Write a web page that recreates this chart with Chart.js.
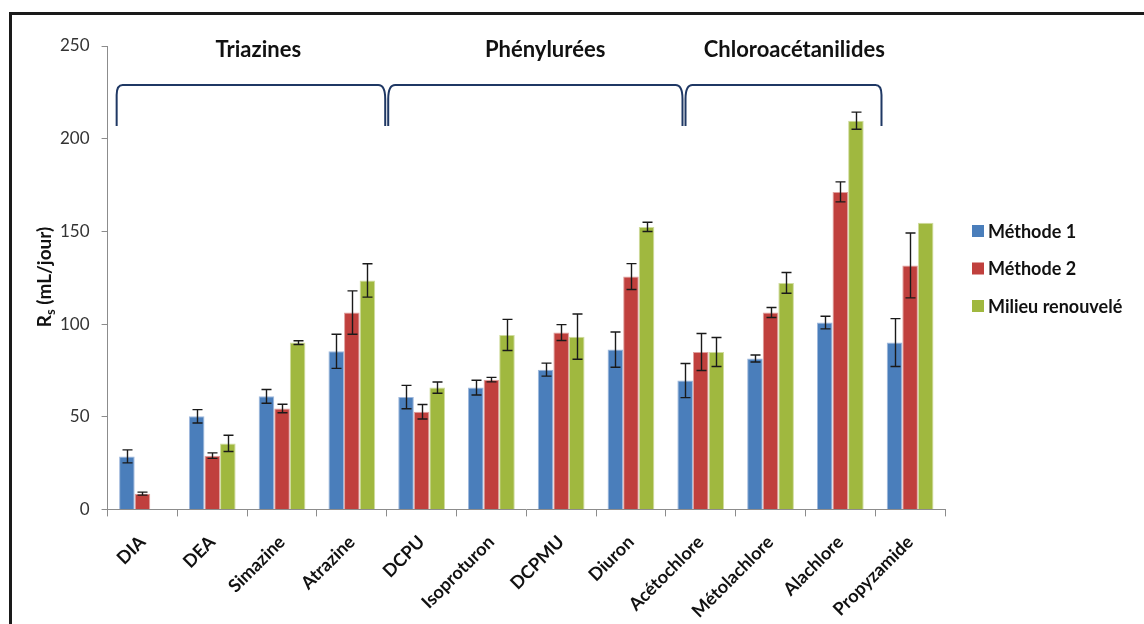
<!DOCTYPE html>
<html>
<head>
<meta charset="utf-8">
<script src="https://cdn.jsdelivr.net/npm/chart.js@4.4.0/dist/chart.umd.min.js"></script>
<style>
    html, body { margin: 0; padding: 0; background: #fff; }
    #wrap { width: 1144px; height: 624px; position: relative; }
</style>
</head>
<body>
<div id="wrap"><canvas id="chart"></canvas></div>
<script>
const categories = ['DIA', 'DEA', 'Simazine', 'Atrazine', 'DCPU', 'Isoproturon', 'DCPMU', 'Diuron', 'Acétochlore', 'Métolachlore', 'Alachlore', 'Propyzamide'];
const methode1 = [28.6, 50.2, 61, 85.3, 60.6, 65.7, 75.4, 86.2, 69.5, 81.4, 100.8, 90];
const methode1Err = [3.5, 3.6, 3.7, 9.2, 6.3, 4, 3.5, 9.5, 9.2, 1.9, 3.4, 12.9];
const methode2 = [8.5, 29, 54.4, 106.2, 52.7, 70, 95.4, 125.6, 84.9, 106.2, 171.3, 131.6];
const methode2Err = [0.8, 1.5, 2.3, 11.7, 3.9, 1.2, 4.3, 7, 10, 2.7, 5.4, 17.5];
const milieu = [null, 35.6, 90, 123.5, 65.7, 94.1, 93.2, 152.4, 84.9, 122.2, 209.7, 154.6];
const milieuErr = [null, 4.4, 1, 9, 3, 8.4, 12.2, 2.5, 7.8, 5.6, 4.6, null];
const yTicks = [0, 50, 100, 150, 200, 250];
const groupNames = ['Triazines', 'Phénylurées', 'Chloroacétanilides'];

const FONT = 'Lato, "Open Sans", sans-serif';

// Error bars, drawn through the y scale
const errorBars = {
    id: 'errorBars',
    afterDatasetsDraw(chart) {
        const ctx = chart.ctx;
        const y = chart.scales.y;
        const errs = [methode1Err, methode2Err, milieuErr];
        ctx.save();
        ctx.strokeStyle = '#1a1a1a';
        ctx.lineWidth = 1.4;
        chart.data.datasets.forEach((ds, di) => {
            const meta = chart.getDatasetMeta(di);
            meta.data.forEach((bar, i) => {
                const v = ds.data[i];
                const e = errs[di][i];
                if (v == null || e == null) return;
                const top = y.getPixelForValue(v + e);
                const bot = y.getPixelForValue(v - e);
                const x = Math.round(bar.x) + 0.5;
                ctx.beginPath();
                ctx.moveTo(x, top); ctx.lineTo(x, bot);
                ctx.moveTo(x - 5, top); ctx.lineTo(x + 5, top);
                ctx.moveTo(x - 5, bot); ctx.lineTo(x + 5, bot);
                ctx.stroke();
            });
        });
        ctx.restore();
    }
};

// Group braces + names, y-axis title, legend, frame
const decorations = {
    id: 'decorations',
    afterDraw(chart) {
        const ctx = chart.ctx;
        const xs = chart.scales.x;
        const step = xs.getPixelForValue(1) - xs.getPixelForValue(0);
        const px = u => xs.getPixelForValue(0) + u * step;
        const edges = [-0.37, 3.5, 7.76, 10.59];
        const centers = [1.66, 5.77, 9.34];
        const yTop = 85, yBot = 126;

        ctx.save();
        ctx.strokeStyle = '#1f3864';
        ctx.lineWidth = 2;
        for (let g = 0; g < 3; g++) {
            const a = px(edges[g]) + (g > 0 ? 1.5 : 0);
            const b = px(edges[g + 1]) - (g < 2 ? 1.5 : 0);
            ctx.beginPath();
            if (g === 0) {
                ctx.moveTo(a, yBot);
                ctx.lineTo(a, yTop + 10);
                ctx.quadraticCurveTo(a, yTop, a + 6, yTop);
            } else {
                ctx.moveTo(a, yBot);
                ctx.lineTo(a, yTop + 14);
                ctx.quadraticCurveTo(a, yTop, a + 7, yTop);
            }
            if (g === 2) {
                ctx.lineTo(b - 6, yTop);
                ctx.quadraticCurveTo(b, yTop, b, yTop + 10);
                ctx.lineTo(b, yBot);
            } else {
                ctx.lineTo(b - 7, yTop);
                ctx.quadraticCurveTo(b, yTop, b, yTop + 14);
                ctx.lineTo(b, yBot);
            }
            ctx.stroke();
        }
        ctx.fillStyle = '#111';
        ctx.font = 'bold 22px ' + FONT;
        ctx.textAlign = 'center';
        ctx.textBaseline = 'middle';
        groupNames.forEach((n, i) => ctx.fillText(n, px(centers[i]), 50));

        // legend
        ctx.font = 'bold 18px ' + FONT;
        ctx.textAlign = 'left';
        chart.data.datasets.forEach((ds, i) => {
            const cy = 231 + i * 37.5;
            ctx.fillStyle = ds.backgroundColor;
            ctx.fillRect(972, cy - 6, 12, 12);
            ctx.fillStyle = '#111';
            ctx.fillText(ds.label, 988, cy + 1);
        });

        // y-axis title with subscript
        ctx.translate(45, 277);
        ctx.rotate(-Math.PI / 2);
        ctx.textBaseline = 'alphabetic';
        const big = 'bold 19px ' + FONT, small = 'bold 13px ' + FONT;
        ctx.font = big;
        const wR = ctx.measureText('R').width;
        const wRest = ctx.measureText(' (mL/jour)').width;
        ctx.font = small;
        const wS = ctx.measureText('s').width;
        const x0 = -(wR + wS + wRest) / 2;
        ctx.font = big;
        ctx.fillText('R', x0, 6);
        ctx.font = small;
        ctx.fillText('s', x0 + wR, 10);
        ctx.font = big;
        ctx.fillText(' (mL/jour)', x0 + wR + wS, 6);
        ctx.restore();

        // frame
        ctx.save();
        ctx.fillStyle = '#1a1a1a';
        ctx.fillRect(9, 12, 1135, 3);
        ctx.fillRect(9, 12, 3, 612);
        ctx.restore();
    }
};

const ctx = document.getElementById('chart').getContext('2d');
const chart = new Chart(ctx, {
    type: 'bar',
    data: {
        labels: categories,
        datasets: [
            { label: 'Méthode 1', data: methode1, backgroundColor: '#4a7ebb', borderColor: '#9fb8dc', borderWidth: 1 },
            { label: 'Méthode 2', data: methode2, backgroundColor: '#c0403d', borderColor: '#e0a09e', borderWidth: 1 },
            { label: 'Milieu renouvelé', data: milieu, backgroundColor: '#a0b83f', borderColor: '#d0dc9f', borderWidth: 1 }
        ]
    },
    options: {
        responsive: true,
        maintainAspectRatio: false,
        animation: false,
        layout: { padding: { left: 48, right: 199, top: 46, bottom: -13 } },
        datasets: { bar: { categoryPercentage: 0.67, barPercentage: 1 } },
        plugins: {
            legend: { display: false },
            tooltip: { enabled: false }
        },
        scales: {
            x: {
                grid: { offset: true, drawOnChartArea: false, tickLength: 7, color: '#8c8c8c' },
                border: { color: '#8c8c8c' },
                ticks: {
                    maxRotation: 45, minRotation: 45, padding: 15,
                    color: '#111',
                    font: { family: FONT, size: 18, weight: 'bold' }
                }
            },
            y: {
                min: 0, max: 250,
                afterBuildTicks: s => { s.ticks = yTicks.map(v => ({ value: v })); },
                grid: { drawOnChartArea: false, tickLength: 6, color: '#8c8c8c' },
                border: { color: '#8c8c8c' },
                ticks: {
                    padding: 12,
                    color: '#333',
                    font: { family: FONT, size: 17 }
                }
            }
        }
    },
    plugins: [errorBars, decorations]
});
</script>
</body>
</html>
